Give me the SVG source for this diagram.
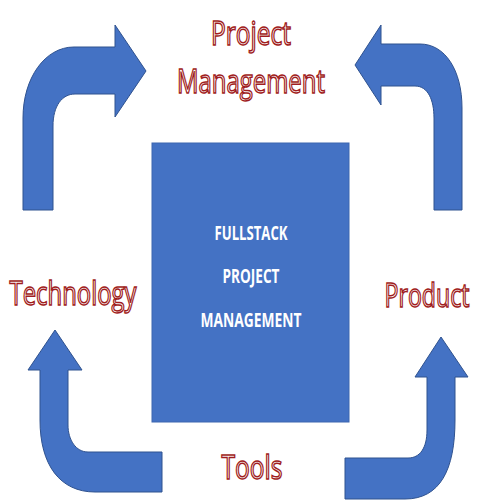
<svg xmlns="http://www.w3.org/2000/svg" width="500" height="500" viewBox="0 0 500 500">
<style>
.arrow{fill:#4472C4;stroke:#2F528F;stroke-width:1}
.lbl{font-family:"Open Sans","Liberation Sans",Arial,sans-serif;font-size:32px;fill:#ffffff;stroke:#A01C20;stroke-width:1.5;text-anchor:middle}
.inner{font-family:"Open Sans","Liberation Sans",sans-serif;font-weight:bold;font-size:19px;fill:#ffffff;text-anchor:middle}
</style>
<rect width="500" height="500" fill="#ffffff"/>
<g id="connectors">
<path class="arrow" d="M 23 210 L 23 118 C 23 78 45 47 74 47 L 115 47 L 115 25 L 146 71 L 115 117 L 115 94 L 75 94 C 62 94 53 106 53 126 L 53 210 Z"/>
<path class="arrow" d="M 462 210 L 462 108 C 462 70 445 44 420 44 L 381 44 L 381 25 L 355 65 L 381 105 L 381 86 L 415 86 C 428 86 434 100 434 118 L 434 210 Z"/>
<path class="arrow" d="M 162 492 L 162 452 L 88 452 C 76 452 68 440 68 425 L 68 370 L 82 370 L 55 330 L 28 370 L 40 370 L 40 420 C 40 465 60 492 95 492 Z"/>
<path class="arrow" d="M 345 499 L 345 458 L 408 458 C 420 458 427 448 427 430 L 427 377 L 415 377 L 441 337 L 468 377 L 455 377 L 455 420 C 455 470 440 499 405 499 Z"/>
</g>
<g id="center">
<rect x="152" y="143" width="197" height="279" fill="#4472C4" stroke="#3C66B0" stroke-width="1"/>
<text class="inner" x="251" y="240" textLength="73" lengthAdjust="spacingAndGlyphs">FULLSTACK</text>
<text class="inner" x="251" y="283" textLength="57" lengthAdjust="spacingAndGlyphs">PROJECT</text>
<text class="inner" x="251" y="327" textLength="101" lengthAdjust="spacingAndGlyphs">MANAGEMENT</text>
</g>
<g id="project-management">
<text class="lbl" x="251" y="45" textLength="80" lengthAdjust="spacingAndGlyphs">Project</text>
<text class="lbl" x="251" y="93" textLength="148" lengthAdjust="spacingAndGlyphs">Management</text>
</g>
<g id="technology">
<text class="lbl" x="73" y="305" textLength="127" lengthAdjust="spacingAndGlyphs">Technology</text>
</g>
<g id="product">
<text class="lbl" x="427" y="307" textLength="85" lengthAdjust="spacingAndGlyphs">Product</text>
</g>
<g id="tools">
<text class="lbl" x="252" y="479" textLength="61" lengthAdjust="spacingAndGlyphs">Tools</text>
</g>
</svg>
